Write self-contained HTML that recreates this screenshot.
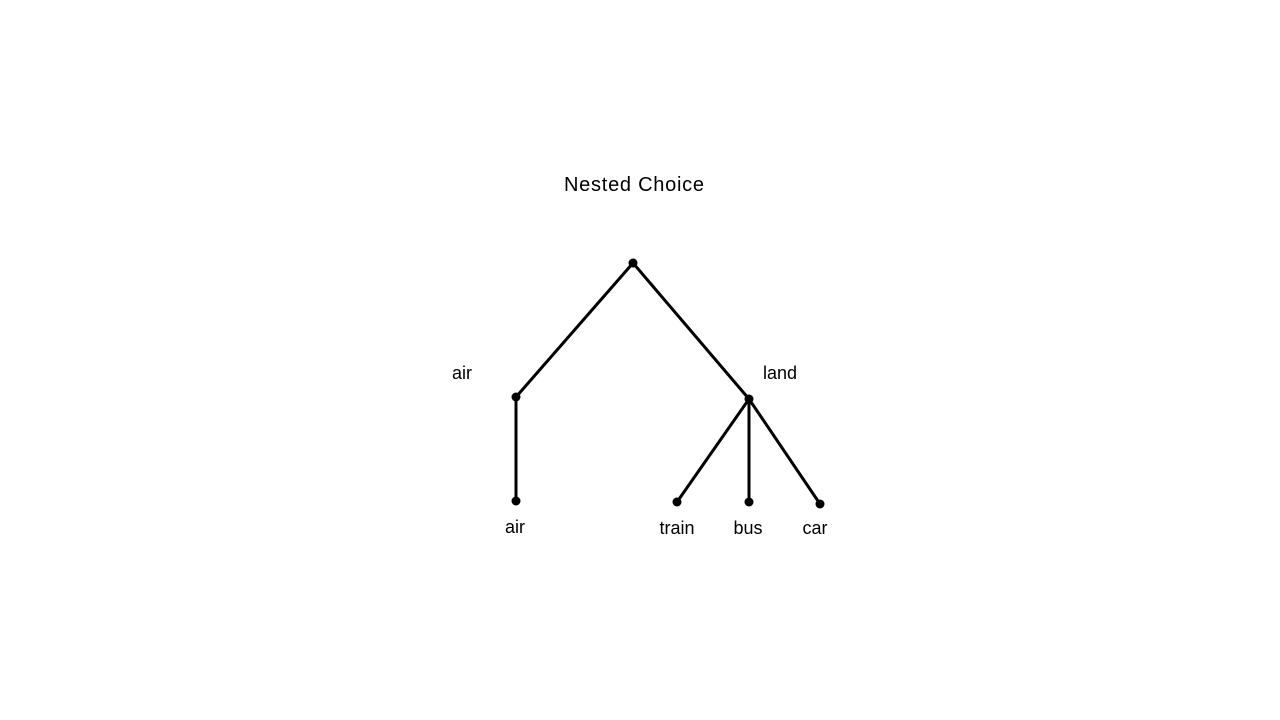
<!DOCTYPE html>
<html>
<head>
<meta charset="utf-8">
<style>
  html,body{margin:0;padding:0;background:#fff;}
  svg{display:block;}
  text{font-family:"Liberation Sans",sans-serif;fill:#000;}
</style>
</head>
<body>
<svg id="chart" width="1280" height="720" viewBox="0 0 1280 720" xmlns="http://www.w3.org/2000/svg">
  <rect width="1280" height="720" fill="#fff"/>
  <text x="634" y="191" font-size="20" text-anchor="middle" textLength="140">Nested Choice</text>
  <g id="edges"></g>
  <g id="nodes"></g>
  <g id="labels"></g>
</svg>
<script>
const nodeNames = ["root", "air-nest", "land-nest", "air", "train", "bus", "car"];
const nodeParents = [-1, 0, 0, 1, 2, 2, 2];
const nodeLabels = ["", "air", "land", "air", "train", "bus", "car"];
// layout positions (not data)
const layoutX = [633, 516, 749, 516, 677, 749, 820];
const layoutY = [263, 397, 399, 501, 502, 502, 504];
const labelX = [0, 462, 780, 515, 677, 748, 815];
const labelY = [0, 379, 379, 533, 534, 534, 534];

const NS = "http://www.w3.org/2000/svg";
const edges = document.getElementById("edges");
const nodes = document.getElementById("nodes");
const labels = document.getElementById("labels");

for (let i = 0; i < nodeNames.length; i++) {
  const p = nodeParents[i];
  if (p >= 0) {
    const l = document.createElementNS(NS, "line");
    l.setAttribute("x1", layoutX[p]); l.setAttribute("y1", layoutY[p]);
    l.setAttribute("x2", layoutX[i]); l.setAttribute("y2", layoutY[i]);
    l.setAttribute("stroke", "#000"); l.setAttribute("stroke-width", "3");
    
    
    edges.appendChild(l);
  }
  const c = document.createElementNS(NS, "circle");
  c.setAttribute("cx", layoutX[i]); c.setAttribute("cy", layoutY[i]); c.setAttribute("r", "4.5");
  c.setAttribute("fill", "#000");
  
  
  nodes.appendChild(c);
  if (nodeLabels[i]) {
    const t = document.createElementNS(NS, "text");
    t.setAttribute("x", labelX[i]); t.setAttribute("y", labelY[i]);
    t.setAttribute("font-size", "18"); t.setAttribute("text-anchor", "middle");
    t.textContent = nodeLabels[i];
    
    
    labels.appendChild(t);
  }
}
</script>
</body>
</html>
